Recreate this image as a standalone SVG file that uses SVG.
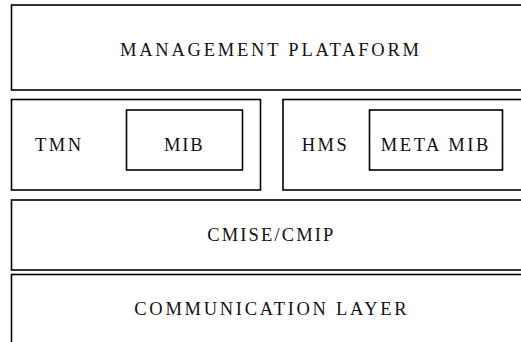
<svg xmlns="http://www.w3.org/2000/svg" width="521" height="342" viewBox="0 0 521 342">
  <style>
    .box { fill: #ffffff; stroke: #000000; stroke-width: 1.6; }
    .lbl { font-family: "Liberation Serif", "Times New Roman", serif; font-size: 18.5px; fill: #111111; }
  </style>
  <rect x="0" y="0" width="521" height="342" fill="#ffffff"/>

  <!-- Management platform layer (runs off the right edge) -->
  <g id="management-platform">
    <rect class="box" x="11.5" y="5" width="520" height="85"/>
    <text class="lbl" x="120" y="56" textLength="299" lengthAdjust="spacing">MANAGEMENT PLATAFORM</text>
  </g>

  <!-- TMN block with its MIB -->
  <g id="tmn">
    <rect class="box" x="11.5" y="99.5" width="249" height="90.5"/>
    <text class="lbl" x="35" y="151" textLength="46" lengthAdjust="spacing">TMN</text>
  </g>
  <g id="mib">
    <rect class="box" x="126.5" y="110" width="116" height="60"/>
    <text class="lbl" x="164" y="151" textLength="38.7" lengthAdjust="spacing">MIB</text>
  </g>

  <!-- HMS block with its meta MIB -->
  <g id="hms">
    <rect class="box" x="283" y="99.5" width="260" height="90.5"/>
    <text class="lbl" x="301.7" y="151" textLength="45" lengthAdjust="spacing">HMS</text>
  </g>
  <g id="meta-mib">
    <rect class="box" x="369.5" y="110" width="133" height="60"/>
    <text class="lbl" x="380.7" y="151" textLength="107.6" lengthAdjust="spacing">META MIB</text>
  </g>

  <!-- Protocol layer -->
  <g id="cmise-cmip">
    <rect class="box" x="11.5" y="200" width="520" height="70" stroke-width="2"/>
    <text class="lbl" x="207.3" y="240.5" textLength="126" lengthAdjust="spacing">CMISE/CMIP</text>
  </g>

  <!-- Communication layer (runs off the right and bottom edges) -->
  <g id="communication-layer">
    <rect class="box" x="11.5" y="274.5" width="520" height="80" stroke-width="2"/>
    <text class="lbl" x="134.3" y="315" textLength="272.4" lengthAdjust="spacing">COMMUNICATION LAYER</text>
  </g>
</svg>
